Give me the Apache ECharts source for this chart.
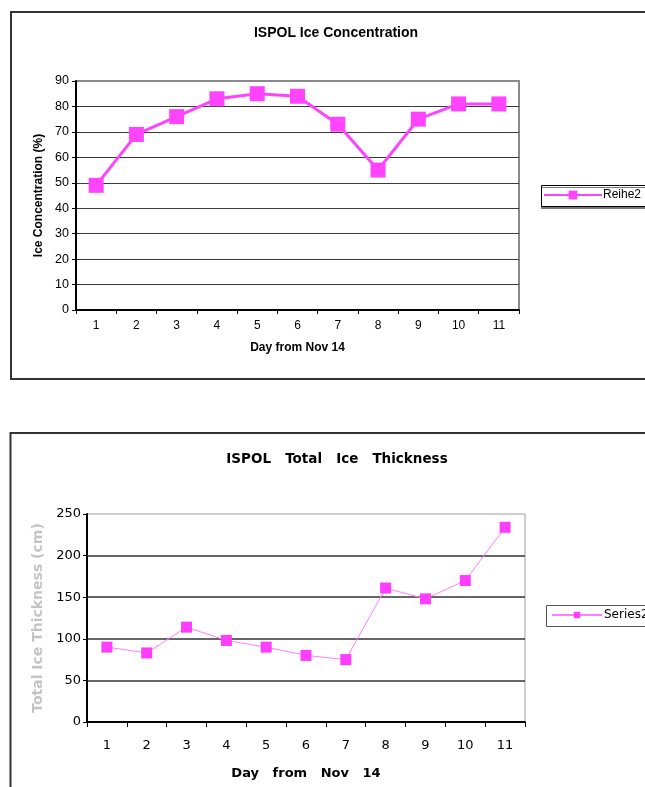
<!DOCTYPE html>
<html>
<head>
<meta charset="utf-8">
<script src="https://cdn.jsdelivr.net/npm/echarts@6/dist/echarts.min.js"></script>
<style>
  html, body { margin: 0; padding: 0; background: #fff; }
  #chart { width: 645px; height: 787px; }
</style>
</head>
<body>
<div id="chart"></div>
<script>
// Days since Nov 14 shared by both panels
const days = ['1', '2', '3', '4', '5', '6', '7', '8', '9', '10', '11'];

// Ice concentration (%) per day
const concentration = [49, 69, 76, 83, 85, 84, 73, 55, 75, 81, 81];

// Total ice thickness (cm) per day
const thickness = [90, 83, 114, 98, 90, 80, 75, 161, 148, 170, 234];

const arial = '"Liberation Sans", Arial, sans-serif';
const geneva = '"DejaVu Sans", sans-serif';

const chart = echarts.init(document.getElementById('chart'), null, { renderer: 'canvas' });

chart.setOption({
  animation: false,
  backgroundColor: '#ffffff',
  title: [
    {
      text: 'ISPOL Ice Concentration',
      left: 331, top: 21, textAlign: 'center',
      textStyle: { fontFamily: arial, fontSize: 14, fontWeight: 'bold', color: '#000' }
    },
    {
      text: 'ISPOL   Total   Ice   Thickness',
      left: 332, top: 447, textAlign: 'center',
      textStyle: { fontFamily: geneva, fontSize: 13.5, fontWeight: 'bold', color: '#000' }
    }
  ],
  graphic: [
    // panel frames
    { type: 'rect', shape: { x: 11, y: 12, width: 660, height: 367 },
      style: { fill: null, stroke: '#333', lineWidth: 2 }, z: 0 },
    { type: 'rect', shape: { x: 10.5, y: 433, width: 660, height: 380 },
      style: { fill: null, stroke: '#333', lineWidth: 2 }, z: 0 },
    // legend boxes
    { type: 'rect', shape: { x: 541.5, y: 185.5, width: 120, height: 21 },
      style: { fill: '#fff', stroke: '#000', lineWidth: 1,
               shadowColor: '#777', shadowOffsetX: 0, shadowOffsetY: 2, shadowBlur: 0 }, z: 1 },
    { type: 'rect', shape: { x: 546.5, y: 605.5, width: 120, height: 21 },
      style: { fill: '#fff', stroke: '#555', lineWidth: 1 }, z: 1 }
  ],
  legend: [
    {
      data: ['Reihe2'], left: 543, top: 189, padding: 0,
      itemWidth: 58, itemHeight: 11, itemGap: 0, z: 5,
      textStyle: { fontFamily: arial, fontSize: 12, color: '#000', padding: [0, 0, 0, -4] }
    },
    {
      data: ['Series2'], left: 551, top: 609, padding: 0,
      itemWidth: 50, itemHeight: 8, itemGap: 0, z: 5,
      textStyle: { fontFamily: geneva, fontSize: 12, color: '#000', padding: [0, 0, 0, -3] }
    }
  ],
  grid: [
    { left: 76, top: 81, width: 443, height: 229, show: true,
      borderColor: '#8a8a8a', borderWidth: 2, backgroundColor: 'transparent' },
    { left: 87, top: 514, width: 438, height: 208, show: true,
      borderColor: '#a0a0a0', borderWidth: 1, backgroundColor: 'transparent' }
  ],
  xAxis: [
    {
      type: 'category', gridIndex: 0, data: days, boundaryGap: true,
      name: 'Day from Nov 14', nameLocation: 'middle', nameGap: 32,
      nameTextStyle: { fontFamily: arial, fontSize: 12, fontWeight: 'bold', color: '#000' },
      axisLine: { lineStyle: { color: '#000', width: 2 } },
      axisTick: { show: true, length: 4, interval: 0, lineStyle: { color: '#000' } },
      axisLabel: { fontFamily: arial, fontSize: 12, color: '#000', margin: 10, interval: 0 }
    },
    {
      type: 'category', gridIndex: 1, data: days, boundaryGap: true,
      name: 'Day   from   Nov   14', nameLocation: 'middle', nameGap: 45,
      nameTextStyle: { fontFamily: geneva, fontSize: 13, fontWeight: 'bold', color: '#000' },
      axisLine: { lineStyle: { color: '#000', width: 2 } },
      axisTick: { show: true, length: 5, interval: 0, lineStyle: { color: '#000' } },
      axisLabel: { fontFamily: geneva, fontSize: 13, color: '#000', margin: 17, interval: 0 }
    }
  ],
  yAxis: [
    {
      type: 'value', gridIndex: 0, min: 0, max: 90, interval: 10,
      name: 'Ice Concentration (%)', nameLocation: 'middle', nameGap: 28, nameRotate: 90,
      nameTextStyle: { fontFamily: arial, fontSize: 12, fontWeight: 'bold', color: '#000' },
      axisLine: { show: true, lineStyle: { color: '#000', width: 2 } },
      axisTick: { show: true, length: 4, lineStyle: { color: '#000' } },
      axisLabel: { fontFamily: arial, fontSize: 12.5, color: '#000', margin: 7 },
      splitLine: { show: true, showMaxLine: false, lineStyle: { color: '#3a3a3a', width: 1.2 } }
    },
    {
      type: 'value', gridIndex: 1, min: 0, max: 250, interval: 50,
      name: 'Total Ice Thickness (cm)', nameLocation: 'middle', nameGap: 39, nameRotate: 90,
      nameTextStyle: { fontFamily: geneva, fontSize: 14, fontWeight: 'bold', color: '#c4c4c4' },
      axisLine: { show: true, lineStyle: { color: '#000', width: 2 } },
      axisTick: { show: true, length: 4, lineStyle: { color: '#000' } },
      axisLabel: { fontFamily: geneva, fontSize: 13, color: '#000', margin: 6 },
      splitLine: { show: true, showMaxLine: false, lineStyle: { color: '#333', width: 1.5 } }
    }
  ],
  series: [
    {
      name: 'Reihe2', type: 'line', xAxisIndex: 0, yAxisIndex: 0,
      data: concentration, symbol: 'rect', symbolSize: 15,
      lineStyle: { color: '#ff44ff', width: 3 },
      itemStyle: { color: '#ff44ff', borderWidth: 0 }
    },
    {
      name: 'Series2', type: 'line', xAxisIndex: 1, yAxisIndex: 1,
      data: thickness, symbol: 'rect', symbolSize: 11,
      lineStyle: { color: '#ff80ff', width: 1 },
      itemStyle: { color: '#ff3dff', borderWidth: 0 }
    }
  ]
});
</script>
</body>
</html>
